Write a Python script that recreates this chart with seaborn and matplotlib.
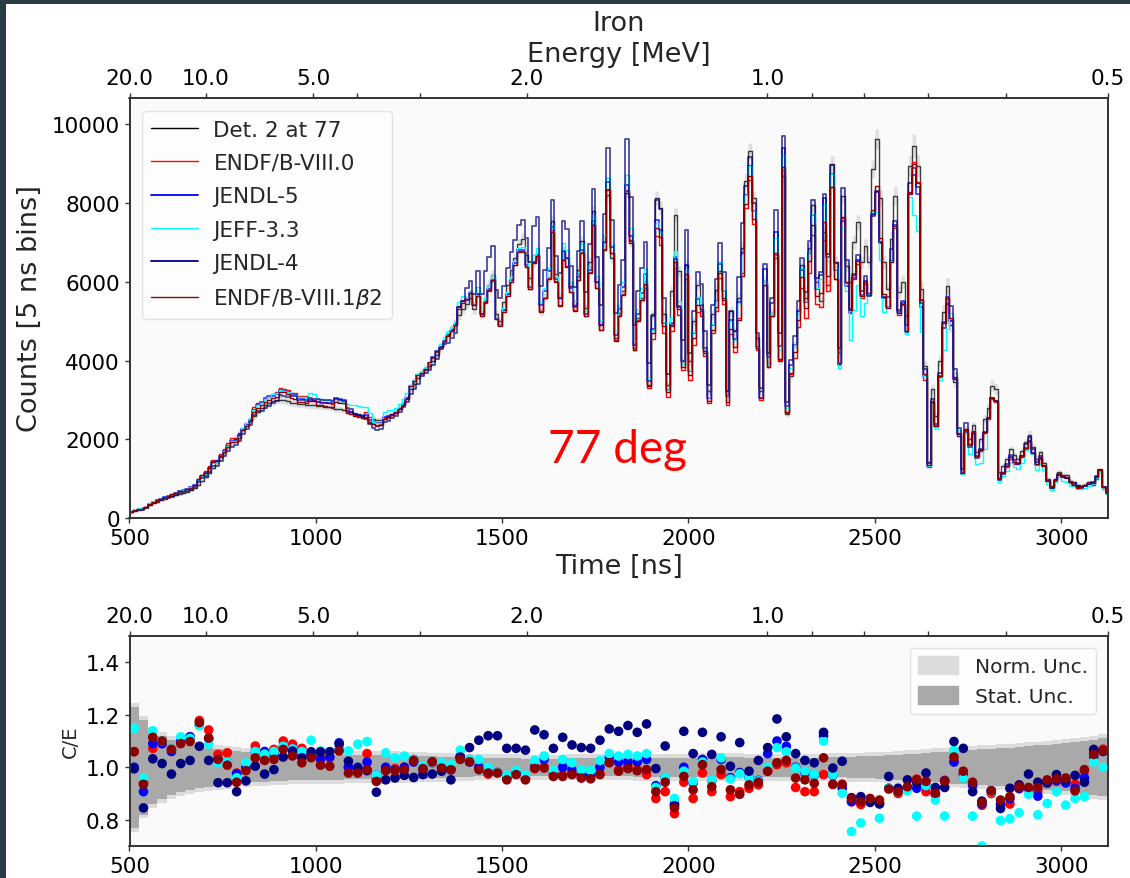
import numpy as np
import pandas as pd
import matplotlib
matplotlib.use("Agg")
import matplotlib.pyplot as plt
from matplotlib.patches import Rectangle, Patch
import seaborn as sns

# ---------------- data ----------------
exp_start = 500      # ns, first 10-ns sample
exp_counts = [
    150, 180, 215, 250, 290, 330, 370, 410, 450, 490,
    525, 560, 590, 620, 640, 660, 700, 760, 840, 930,
    1035, 1150, 1280, 1410, 1540, 1670, 1800, 1920, 2040, 2150,
    2260, 2380, 2490, 2600, 2700, 2790, 2870, 2920, 2960, 2990,
    3000, 2990, 2960, 2930, 2910, 2900, 2890, 2880, 2870, 2860,
    2850, 2840, 2830, 2820, 2800, 2780, 2760, 2740, 2720, 2700,
    2640, 2620, 2600, 2560, 2430, 2515, 2480, 2500, 2560, 2600,
    2640, 2700, 2800, 2900, 3050, 3280, 3400, 3550, 3700, 3800,
    3870, 4000, 4150, 4350, 4500, 4675, 4800, 4950, 5150, 5300,
    5440, 5600, 5300, 5700, 5170, 5600, 5930, 6180, 5170, 5000,
    5500, 5930, 6300, 6600, 6950, 7100, 6690, 6100, 6500, 6690,
    5250, 5600, 6100, 7540, 6200, 5590, 6780, 6600, 5900, 5420,
    6300, 7030, 5340, 6500, 7790, 6000, 4910, 7000, 8200, 6610,
    4570, 5200, 5760, 8300, 7030, 4320, 5080, 5600, 6010, 3390,
    5170, 8130, 7880, 5170, 3390, 5760, 7710, 6270, 3980, 6430,
    3980, 5000, 5930, 5250, 4200, 3220, 5170, 5800, 6270, 5590,
    3220, 5250, 4740, 5600, 6860, 8560, 9320, 8130, 4570, 3220,
    6010, 3900, 5200, 6610, 3980, 8700, 2630, 3600, 4400, 5250,
    6440, 5600, 6860, 7940, 6000, 5510, 7260, 5930, 9000, 6500,
    4220, 8190, 6410, 6000, 7000, 7520, 6500, 6920, 6500, 8870,
    9630, 8130, 6500, 5820, 7090, 8190, 5740, 6000, 5140, 8950,
    9460, 8950, 5820, 3870, 1420, 3280, 2600, 4000, 5230, 5900,
    4900, 3450, 2090, 1160, 2260, 2000, 2350, 1680, 2000, 2520,
    2800, 3360, 3280, 1160, 1330, 1500, 1750, 1600, 1500, 1700,
    1920, 2120, 1800, 1500, 1670, 1400, 1000, 820, 1000, 1160,
    1100, 1080, 950, 910, 850, 820, 850, 910, 850, 1000,
    1160, 740, 610]

# C/E in 25-ns bins starting at 500 ns
ce_jendl4 = [
    0.994, 0.845, 1.032, 1.014, 0.974, 1.014, 1.026, 1.08, 1.026, 0.941,
    0.941, 0.907, 0.948, 1.004, 0.974, 0.991, 1.039, 1.062, 1.036, 1.059,
    1.059, 1.059, 1.088, 1.023, 0.997, 0.987, 0.905, 0.952, 0.959, 0.969,
    0.961, 0.972, 0.974, 0.985, 0.952, 1.039, 1.075, 1.103, 1.12, 1.12,
    1.072, 1.072, 1.065, 1.142, 1.124, 1.072, 1.114, 1.085, 1.075, 1.072,
    1.103, 1.146, 1.137, 1.159, 1.133, 1.165, 0.995, 1.081, 0.853, 1.137,
    1.052, 1.133, 1.049, 1.116, 1.004, 1.094, 0.985, 1.026, 1.075, 1.184,
    1.116, 1.052, 1.026, 1.017, 1.133, 0.997, 1.023, 0.884, 0.888, 0.866,
    0.862, 0.965, 0.92, 0.952, 0.939, 0.978, 0.923, 0.923, 1.098, 1.072,
    0.907, 0.871, 0.91, 0.843, 0.92, 0.933, 0.974, 0.943, 0.943, 0.972,
    0.952, 0.969, 0.943, 1.068, 1.062]
ce_jendl5 = [
    1.0, 0.907, 1.09, 1.09, 1.06, 1.10, 1.116, 1.16, 1.11, 1.03,
    1.02, 0.975, 1.0, 1.06, 1.06, 1.05, 1.08, 1.07, 1.05, 1.04,
    1.03, 1.04, 1.093, 1.0, 1.0, 1.02, 0.97, 1.0, 0.99, 1.0,
    1.02, 0.99, 1.02, 1.0, 0.99, 1.04, 1.02, 1.0, 0.98, 0.98,
    0.96, 0.98, 0.96, 1.0, 1.03, 0.98, 1.0, 0.99, 0.97, 0.97,
    1.0, 1.04, 1.02, 1.02, 1.02, 1.03, 0.93, 0.96, 0.86, 1.0,
    0.94, 1.03, 0.95, 1.03, 0.96, 0.98, 0.96, 0.95, 1.052, 1.1,
    1.08, 1.0, 0.98, 0.97, 1.12, 0.97, 0.92, 0.87, 0.87, 0.87,
    0.86, 0.92, 0.91, 0.92, 0.92, 0.93, 0.9, 0.95, 1.02, 0.97,
    0.93, 0.86, 0.91, 0.86, 0.88, 0.92, 0.92, 0.89, 0.94, 0.95,
    0.94, 0.92, 0.96, 1.04, 1.06]
ce_jeff33 = [
    1.148, 0.959, 1.139, 1.10, 1.07, 1.116, 1.11, 1.158, 1.088, 1.017,
    1.02, 0.96, 1.017, 1.06, 1.05, 1.06, 1.08, 1.07, 1.06, 1.103,
    1.062, 1.06, 1.07, 1.062, 1.088, 1.098, 0.97, 1.055, 1.036, 1.043,
    1.03, 1.004, 1.02, 1.017, 1.01, 1.065, 1.03, 1.03, 1.0, 0.98,
    0.97, 0.988, 0.97, 1.026, 1.043, 0.988, 1.03, 1.017, 0.991, 0.988,
    1.026, 1.052, 1.043, 1.049, 1.043, 1.052, 0.923, 0.961, 0.881, 0.985,
    0.946, 1.02, 0.952, 1.036, 0.955, 0.975, 0.959, 0.948, 1.0, 1.075,
    1.059, 0.997, 0.985, 0.972, 1.10, 0.972, 0.901, 0.755, 0.788, 0.875,
    0.806, 0.92, 0.907, 0.91, 0.814, 0.93, 0.875, 0.814, 1.065, 0.959,
    0.814, 0.70, 0.907, 0.797, 0.804, 0.827, 0.897, 0.819, 0.862, 0.907,
    0.856, 0.881, 0.888, 1.021, 1.0]
ce_endf80 = [
    1.06, 0.94, 1.072, 1.09, 1.07, 1.10, 1.116, 1.178, 1.142, 1.049,
    1.055, 0.978, 1.0, 1.081, 1.05, 1.068, 1.10, 1.088, 1.072, 1.049,
    1.039, 1.036, 1.07, 1.0, 0.991, 1.052, 0.952, 0.99, 0.995, 1.0,
    1.03, 1.0, 1.017, 1.0, 0.995, 1.04, 1.03, 1.0, 0.974, 0.98,
    0.959, 0.975, 0.955, 1.0, 1.0, 0.97, 0.97, 0.975, 0.96, 0.96,
    0.975, 1.02, 0.99, 1.004, 0.99, 0.972, 0.881, 0.907, 0.823, 0.943,
    0.881, 0.978, 0.907, 0.972, 0.888, 0.907, 0.92, 0.933, 0.985, 1.01,
    1.017, 0.923, 0.907, 0.907, 0.972, 0.935, 0.93, 0.868, 0.858, 0.87,
    0.863, 0.92, 0.9, 0.92, 0.955, 0.907, 0.895, 0.946, 1.024, 0.959,
    0.935, 0.855, 0.90, 0.855, 0.86, 0.918, 0.918, 0.907, 0.939, 0.946,
    0.952, 0.935, 0.985, 1.056, 1.069]
ce_endf81b2 = [
    1.059, 0.935, 1.114, 1.10, 1.068, 1.09, 1.098, 1.17, 1.111, 1.03,
    1.008, 0.943, 0.987, 1.036, 1.026, 1.03, 1.068, 1.043, 1.017, 1.036,
    1.008, 1.004, 1.062, 0.978, 0.978, 0.991, 0.946, 0.987, 0.987, 0.991,
    1.026, 0.995, 1.021, 0.997, 0.991, 1.03, 1.021, 0.991, 0.978, 0.978,
    0.952, 0.972, 0.952, 0.995, 0.997, 0.965, 0.965, 0.972, 0.959, 0.956,
    0.972, 1.017, 0.985, 0.995, 0.987, 0.991, 0.907, 0.943, 0.845, 0.965,
    0.914, 1.01, 0.926, 0.991, 0.914, 0.897, 0.933, 0.943, 0.985, 1.017,
    1.026, 0.959, 0.952, 0.939, 1.036, 0.935, 0.935, 0.881, 0.868, 0.881,
    0.875, 0.917, 0.907, 0.926, 0.952, 0.946, 0.901, 0.948, 1.039, 0.985,
    0.943, 0.866, 0.91, 0.875, 0.888, 0.926, 0.923, 0.923, 0.952, 0.956,
    0.959, 0.91, 0.991, 1.049, 1.062]
stat_unc = [
    0.23, 0.18, 0.14, 0.12, 0.105, 0.095, 0.085, 0.08, 0.075, 0.07,
    0.066, 0.062, 0.06, 0.058, 0.056, 0.054, 0.052, 0.05, 0.05, 0.049,
    0.048, 0.047, 0.047, 0.046, 0.046, 0.046, 0.047, 0.047, 0.046, 0.045,
    0.044, 0.043, 0.041, 0.04, 0.038, 0.037, 0.036, 0.035, 0.035, 0.034,
    0.034, 0.034, 0.033, 0.033, 0.033, 0.033, 0.033, 0.034, 0.034, 0.034,
    0.034, 0.034, 0.035, 0.035, 0.036, 0.036, 0.036, 0.037, 0.037, 0.037,
    0.037, 0.038, 0.038, 0.038, 0.038, 0.038, 0.037, 0.037, 0.037, 0.036,
    0.036, 0.036, 0.037, 0.037, 0.037, 0.038, 0.039, 0.04, 0.041, 0.042,
    0.043, 0.045, 0.047, 0.049, 0.052, 0.055, 0.058, 0.06, 0.062, 0.064,
    0.066, 0.068, 0.07, 0.072, 0.074, 0.077, 0.08, 0.083, 0.086, 0.089,
    0.092, 0.095, 0.1, 0.105, 0.11]
norm_unc = 0.015

energy_major = [20.0, 10.0, 5.0, 2.0, 1.0, 0.5]
energy_minor = [4.0, 3.0, 0.9, 0.8, 0.7, 0.6]
tof_A, tof_B = 2204.7, 7.0   # t[ns] = A/sqrt(E[MeV]) + B (flight-path calibration)

series = [
    ("ENDF/B-VIII.0", ce_endf80, "red", 1.0, 1.0),
    ("JENDL-5", ce_jendl5, "blue", 0.75, 1.3),
    ("JEFF-3.3", ce_jeff33, "cyan", 1.0, 1.0),
    ("JENDL-4", ce_jendl4, "navy", 0.7, 1.3),
    ("ENDF/B-VIII.1$\\beta$2", ce_endf81b2, "darkred", 1.0, 1.0),
]

# ---------------- style ----------------
sns.set_style("ticks")
plt.rcParams["font.family"] = ["DejaVu Sans"]
plt.rcParams["axes.edgecolor"] = "#333333"
plt.rcParams["axes.linewidth"] = 1.2
plt.rcParams["xtick.color"] = "#333333"
plt.rcParams["ytick.color"] = "#333333"
plt.rcParams["xtick.labelcolor"] = "black"
plt.rcParams["ytick.labelcolor"] = "black"

W, H = 1130, 879
fig = plt.figure(figsize=(W / 100, H / 100), dpi=100)
fig.patch.set_facecolor("#2b3b44")
fig.add_artist(Rectangle((6 / W, 0), 1, 1 - 5 / H, transform=fig.transFigure,
                         facecolor="white", edgecolor="none", zorder=-10))

ax1 = fig.add_axes([129.5 / W, 1 - 519 / H, (1107.7 - 129.5) / W, (519 - 99) / H])
ax2 = fig.add_axes([129.5 / W, 1 - 847 / H, (1107.7 - 129.5) / W, (847 - 637) / H])
for ax in (ax1, ax2):
    ax.set_facecolor("#fafafa")

t = exp_start + 10 * np.arange(len(exp_counts))
counts = np.array(exp_counts, dtype=float)
bidx = ((t - 500) // 25).astype(int)
su = np.array(stat_unc)
t_step = np.append(t, t[-1] + 10)

def ext(v):
    return np.append(v, v[-1])

# ---------------- top panel ----------------
err = counts * su[bidx] * 0.6
ax1.fill_between(t_step, ext(counts - err), ext(counts + err), step="post",
                 color="#d9d9d9", alpha=0.8, lw=0, zorder=1)
df = pd.DataFrame({"t": t_step, "c": ext(counts)})
sns.lineplot(data=df, x="t", y="c", ax=ax1, color="black", alpha=0.75, lw=1.0,
             drawstyle="steps-post", label="Det. 2 at 77", zorder=3)
for name, ce, col, a, lw in series:
    model = counts * np.array(ce)[bidx]
    dfm = pd.DataFrame({"t": t_step, "c": ext(model)})
    sns.lineplot(data=dfm, x="t", y="c", ax=ax1, color=col, alpha=a, lw=lw,
                 drawstyle="steps-post", label=name, zorder=3)

ax1.set_xlim(500, 3125)
ax1.set_ylim(0, 10670)
ax1.set_yticks([0, 2000, 4000, 6000, 8000, 10000])
ax1.set_xticks([500, 1000, 1500, 2000, 2500, 3000])
ax1.tick_params(labelsize=15.5, length=3.5, width=1)
ax1.set_xlabel("Time [ns]", fontsize=19.5, labelpad=4)
ax1.set_ylabel("Counts [5 ns bins]", fontsize=19.5, labelpad=6)
leg = ax1.legend(loc="upper left", fontsize=15.5, frameon=True, handlelength=2.2,
                 borderaxespad=0.6, labelspacing=0.62, handletextpad=0.7)
leg.get_frame().set_edgecolor("#dddddd")
for h in leg.get_lines():
    h.set_alpha(1)
ax1.text(1623, 1423, "77 deg", color="red", fontsize=33, family=["Lato", "DejaVu Sans"],
         va="baseline", ha="left", zorder=5)

# ---------------- bottom panel ----------------
tb = 500 + 25 * np.arange(len(stat_unc))
tb_step = np.append(tb, tb[-1] + 25)
tot = su + norm_unc
ax2.fill_between(tb_step, ext(1 - tot), ext(1 + tot), step="post", color="#dcdcdc",
                 lw=0, zorder=1, label="Norm. Unc.")
ax2.fill_between(tb_step, ext(1 - su), ext(1 + su), step="post", color="#a9a9a9",
                 lw=0, zorder=2, label="Stat. Unc.")
tc = tb + 12.5
for name, ce, col, a, lw in series:
    sns.scatterplot(x=tc, y=ce, ax=ax2, color=col, s=48, edgecolor="none",
                    zorder=4, legend=False)
ax2.set_xlim(500, 3125)
ax2.set_ylim(0.7, 1.5)
ax2.set_yticks([0.8, 1.0, 1.2, 1.4])
ax2.set_xticks([500, 1000, 1500, 2000, 2500, 3000])
ax2.tick_params(labelsize=15.5, length=3.5, width=1)
ax2.set_ylabel("C/E", fontsize=14)
ax2.set_xlabel("")
leg2 = ax2.legend(handles=[Patch(color="#dcdcdc", label="Norm. Unc."),
                           Patch(color="#a9a9a9", label="Stat. Unc.")],
                  loc="upper right", fontsize=14.5, frameon=True,
                  handlelength=2.0, handleheight=1.0, borderaxespad=0.6)
leg2.get_frame().set_edgecolor("#dddddd")

# ---------------- energy axes on top ----------------
def e2t(e):
    return tof_A / np.sqrt(e) + tof_B

for ax in (ax1, ax2):
    axt = ax.twiny()
    axt.set_xlim(ax.get_xlim())
    axt.set_xticks([e2t(e) for e in energy_major])
    axt.set_xticklabels([f"{e:.1f}" for e in energy_major])
    axt.set_xticks([e2t(e) for e in energy_minor], minor=True)
    axt.tick_params(which="both", labelsize=15.5, length=3.5, width=1)
    if ax is ax1:
        axt.set_xlabel("Energy [MeV]", fontsize=19.5, labelpad=5)

fig.text(618.6 / W, 1 - 24 / H, "Iron", fontsize=19.5, ha="center", va="center")

fig.savefig("out.png", dpi=100, facecolor=fig.get_facecolor())
